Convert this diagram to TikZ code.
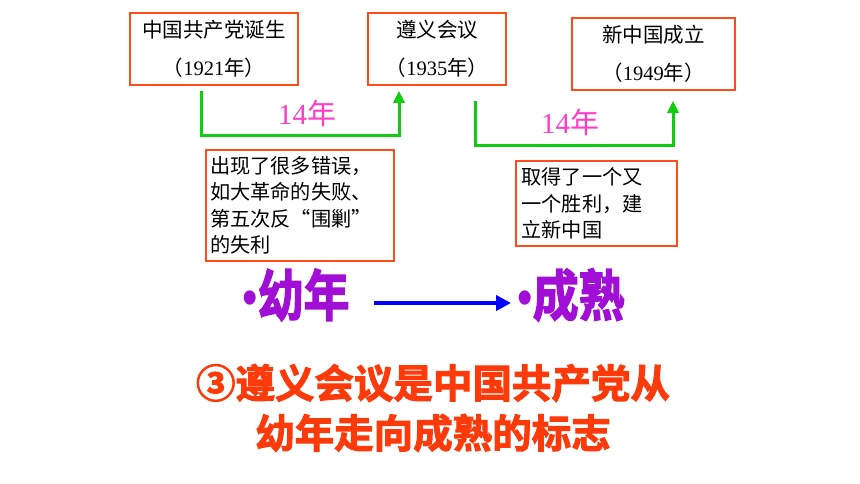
\documentclass[tikz,border=0pt]{standalone}
\usepackage{fontspec}
\usepackage{graphicx}
\usetikzlibrary{arrows.meta}
\newfontfamily\cjk{Noto Sans CJK SC}
\newfontfamily\cjkbold[FakeBold=2.5]{Noto Sans CJK SC Bold}
\newfontfamily\serifnum{Liberation Serif}
\newfontfamily\dotfont{Liberation Sans}
\definecolor{boxred}{HTML}{FF4A1C}
\definecolor{arrgreen}{HTML}{11CC11}
\definecolor{pinklab}{HTML}{FF3CC8}
\definecolor{bigpurple}{HTML}{A10ED6}
\definecolor{titlered}{HTML}{FF3A0A}
\newcommand{\bigdot}{{\dotfont\fontsize{44}{44}\selectfont\raisebox{0pt}{•}}}
\begin{document}
\begin{tikzpicture}[x=1pt,y=-1pt,
  eventbox/.style={draw=boxred,line width=1.6pt,fill=white,inner sep=0pt,
    minimum height=72pt,align=center,font=\cjk\fontsize{20.5}{38}\selectfont},
  notebox/.style={draw=boxred,line width=1.6pt,fill=white,inner sep=0pt,
    align=left,text width=#1,font=\cjk\fontsize{20.2}{26.5}\selectfont},
  span/.style={draw=arrgreen,line width=3pt,-{Triangle[width=11pt,length=12pt]}},
  spanlabel/.style={text=pinklab,font=\fontsize{29}{30}\selectfont},
  bigword/.style={text=bigpurple,inner sep=0pt,font=\cjkbold\fontsize{46}{52}\selectfont},
  title/.style={text=titlered,align=center,font=\cjkbold\fontsize{39.5}{50}\selectfont}]
\useasboundingbox (0,0) rectangle (860,484);
\fill[white] (0,0) rectangle (860,484);
% event boxes
\node[eventbox,minimum width=168pt] (b1) at (214,49) {中国共产党诞生\\（{\serifnum 1921}年）};
\node[eventbox,minimum width=138pt] (b2) at (437,49) {遵义会议\\（{\serifnum 1935}年）};
\node[eventbox,minimum width=163pt] (b3) at (653.5,54) {新中国成立\\（{\serifnum 1949}年）};
% green spans
\draw[span] ([shift={(-13,5)}]b1.south) -- ++(0,45) -| ([shift={(-38,5)}]b2.south);
\draw[span] ([shift={(38,15)}]b2.south) -- ++(0,45) -| ([shift={(19.5,10)}]b3.south);
\node[spanlabel] (l1) at (307,113) {\serifnum 14\cjk 年};
\node[spanlabel] (l2) at (570,122) {\serifnum 14\cjk 年};
% note boxes
\node[notebox=180pt,minimum width=188pt,minimum height=111pt] (n1) at (300,205.5)
  {出现了很多错误，\\如大革命的失败、\\第五次反“围剿”\\的失利};
\node[notebox=150pt,minimum width=161pt,minimum height=85pt] (n2) at (596.5,203.5)
  {取得了一个又\\一个胜利，建\\立新中国};
% big words
\node[bigword] (young) at (296,295) {\scalebox{1}[1.2]{\bigdot 幼年}};
\node[bigword] (mature) at (571,295) {\scalebox{1}[1.2]{\bigdot 成熟}};
\coordinate (a1) at (374,303);
\coordinate (a2) at (511,303);
\draw[blue,line width=4pt,-{Triangle[width=15pt,length=15pt]}] (a1) -- (a2);
% title
\node[title] (t) at (433,408) {③遵义会议是中国共产党从\\幼年走向成熟的标志};
\end{tikzpicture}
\end{document}
